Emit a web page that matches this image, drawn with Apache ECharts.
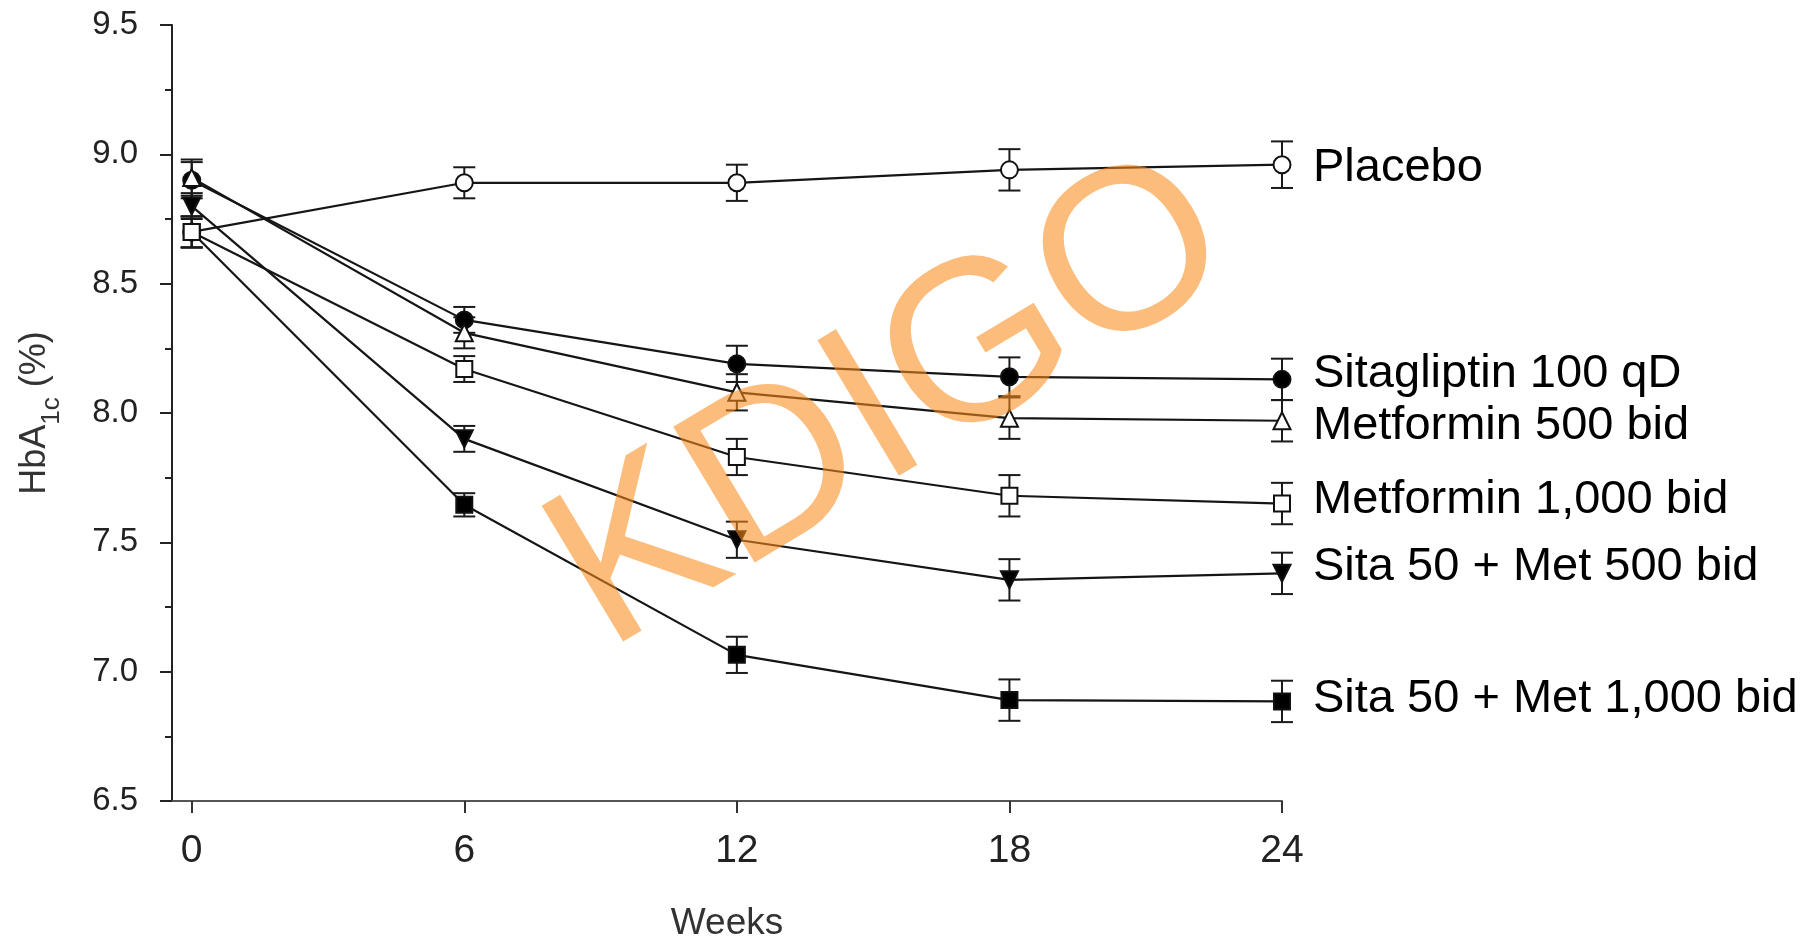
<!DOCTYPE html>
<html><head><meta charset="utf-8">
<script src="https://cdn.jsdelivr.net/npm/echarts@6/dist/echarts.min.js"></script>
<style>html,body{margin:0;padding:0;background:#fff}#c{width:1820px;height:938px}</style>
</head><body><div id="c"></div>
<script>
// ---- data ----
const weeks = [0, 6, 12, 18, 24];
const xTickValues = [0, 6, 12, 18, 24];
const yTickLabels = ['6.5', '7.0', '7.5', '8.0', '8.5', '9.0', '9.5'];
const seriesNames = ['Placebo', 'Sitagliptin 100 qD', 'Metformin 500 bid', 'Metformin 1,000 bid', 'Sita 50 + Met 500 bid', 'Sita 50 + Met 1,000 bid'];
const placebo     = [8.70, 8.89, 8.89, 8.94, 8.96];
const sitagliptin = [8.90, 8.36, 8.19, 8.14, 8.13];
const met500      = [8.91, 8.31, 8.08, 7.98, 7.97];
const met1000     = [8.70, 8.17, 7.83, 7.68, 7.65];
const sitaMet500  = [8.80, 7.90, 7.51, 7.355, 7.38];
const sitaMet1000 = [8.70, 7.645, 7.065, 6.89, 6.885];
const placeboErr     = [0.06, 0.06, 0.07, 0.08, 0.09];
const sitagliptinErr = [0.07, 0.05, 0.07, 0.075, 0.08];
const met500Err      = [0.07, 0.06, 0.07, 0.08, 0.08];
const met1000Err     = [0.06, 0.05, 0.07, 0.08, 0.08];
const sitaMet500Err  = [0.05, 0.05, 0.07, 0.08, 0.08];
const sitaMet1000Err = [0.06, 0.045, 0.07, 0.08, 0.08];

// ---- styles ----
const values = [placebo, sitagliptin, met500, met1000, sitaMet500, sitaMet1000];
const errors = [placeboErr, sitagliptinErr, met500Err, met1000Err, sitaMet500Err, sitaMet1000Err];
const styles = [
  {symbol: 'circle',   fill: '#fff', rotate: 0,   size: 17, dy: 3,  order: 3},
  {symbol: 'circle',   fill: '#000', rotate: 0,   size: 17, dy: -5, order: 2},
  {symbol: 'triangle', fill: '#fff', rotate: 0,   size: 17, dy: 5,  order: 4},
  {symbol: 'rect',     fill: '#fff', rotate: 0,   size: 16, dy: -3, order: 5},
  {symbol: 'triangle', fill: '#000', rotate: 180, size: 17, dy: -6, order: 1},
  {symbol: 'rect',     fill: '#000', rotate: 0,   size: 16, dy: -2, order: 0}
];
const FONT = '"Liberation Sans", Arial, sans-serif';

function errRender(params, api) {
  const x = api.value(0), lo = api.value(1), hi = api.value(2);
  const a = api.coord([x, lo]), b = api.coord([x, hi]);
  const w = 11;
  const st = {stroke: '#1a1a1a', lineWidth: 2};
  return {type: 'group', children: [
    {type: 'line', shape: {x1: a[0], y1: a[1], x2: b[0], y2: b[1]}, style: st},
    {type: 'line', shape: {x1: a[0] - w, y1: a[1], x2: a[0] + w, y2: a[1]}, style: st},
    {type: 'line', shape: {x1: b[0] - w, y1: b[1], x2: b[0] + w, y2: b[1]}, style: st}
  ]};
}

const series = [];
values.forEach((vals, k) => {
  series.push({
    type: 'custom', name: seriesNames[k] + ' err', renderItem: errRender, z: 2, silent: true,
    encode: {x: 0, y: [1, 2]},
    data: weeks.map((w, i) => [w, vals[i] - errors[k][i], vals[i] + errors[k][i]])
  });
});
const drawOrder = values.map((v, k) => k).sort((a, b) => styles[a].order - styles[b].order);
drawOrder.forEach(k => {
  const vals = values[k];
  const s = styles[k];
  series.push({
    type: 'line', name: seriesNames[k], z: 3,
    data: weeks.map((w, i) => [w, vals[i]]),
    symbol: s.symbol, symbolSize: s.size, symbolRotate: s.rotate, showAllSymbol: true,
    itemStyle: {color: s.fill, borderColor: '#111', borderWidth: 2, opacity: 1},
    lineStyle: {color: '#151515', width: 2.2},
    emphasis: {disabled: true},
    endLabel: {show: true, formatter: seriesNames[k], fontSize: 47, color: '#000',
      fontFamily: FONT, distance: 31, offset: [0, s.dy]}
  });
});

const chart = echarts.init(document.getElementById('c'), null, {renderer: 'canvas'});
chart.setOption({
  animation: false,
  backgroundColor: '#fff',
  grid: {left: 172, right: 538, top: 25, bottom: 137, containLabel: false, outerBoundsMode: 'none'},
  xAxis: {
    type: 'value', min: -0.434, max: 24,
    name: 'Weeks', nameLocation: 'middle', nameGap: 104,
    nameTextStyle: {fontSize: 37, color: '#333', fontFamily: FONT},
    axisLine: {onZero: false, lineStyle: {color: '#555', width: 2}},
    axisTick: {show: true, customValues: xTickValues, length: 12, lineStyle: {color: '#333', width: 2}},
    axisLabel: {customValues: xTickValues, fontSize: 39, color: '#222', fontFamily: FONT, margin: 31},
    splitLine: {show: false}
  },
  yAxis: {
    type: 'value', min: 6.5, max: 9.5, interval: 0.5,
    name: '{a|HbA}{s|1c}{a| (%)}', nameLocation: 'middle', nameGap: 115,
    nameTextStyle: {color: '#333', fontFamily: FONT,
      rich: {
        a: {fontSize: 36, lineHeight: 40, verticalAlign: 'top', fontFamily: FONT, color: '#333'},
        s: {fontSize: 26, lineHeight: 26, verticalAlign: 'top', padding: [22, 0, 0, 0], fontFamily: FONT, color: '#333'}
      }},
    axisLine: {onZero: false, lineStyle: {color: '#222', width: 2}},
    axisTick: {show: true, length: 12, lineStyle: {color: '#222', width: 2}},
    minorTick: {show: true, splitNumber: 2, length: 7, lineStyle: {color: '#222', width: 2}},
    axisLabel: {fontSize: 33, color: '#222', fontFamily: FONT, margin: 34,
      formatter: v => yTickLabels[Math.round((v - 6.5) / 0.5)]},
    splitLine: {show: false}
  },
  graphic: [{
    type: 'text', x: 892, y: 406, rotation: 31 * Math.PI / 180, z: 100, silent: true,
    style: {text: 'KDIGO', font: '230px "Liberation Sans", Arial, sans-serif',
      fill: 'rgba(249,140,30,0.58)', textAlign: 'center', textVerticalAlign: 'middle'}
  }],
  series: series
});
</script></body></html>
